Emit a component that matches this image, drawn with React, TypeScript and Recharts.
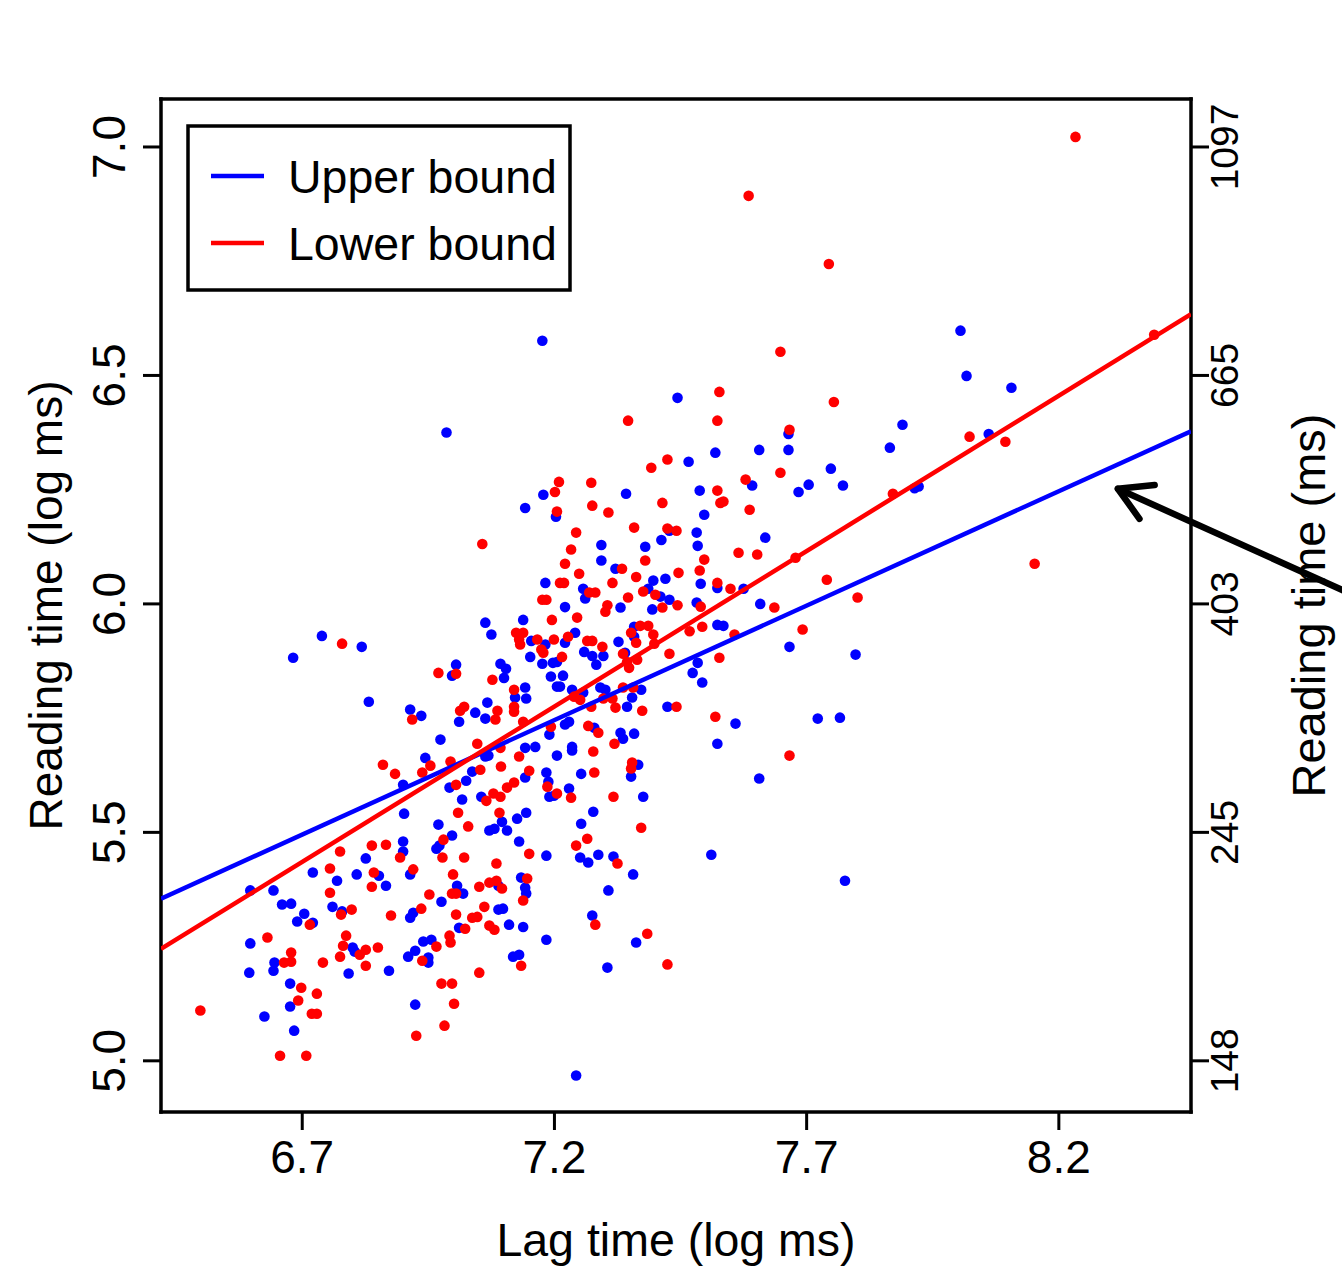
import React from "react";
import { ScatterChart, Scatter, XAxis, YAxis, ReferenceLine } from "recharts";

const FONT = '"Liberation Sans", Arial, Helvetica, sans-serif';
const BLUE = "#0000FF";
const RED = "#FF0000";

// axis setup (log scale values)
const xTicks = [6.7, 7.2, 7.7, 8.2];
const yTicks = [5.0, 5.5, 6.0, 6.5, 7.0];
const msTickLabels = ["148", "245", "403", "665", "1097"];
const xDomain: [number, number] = [6.42, 8.462];
const yDomain: [number, number] = [4.888, 7.105];

// upper bound readings: [lag time, reading time] (log ms)
const upperPts: [number, number][] = [
  [6.682,5.882],[6.739,5.930],[6.818,5.906],[6.832,5.786],[6.826,5.443],[6.721,5.412],[6.808,5.408],[6.852,5.405],[6.769,5.394],[6.866,5.383],
  [6.597,5.373],[6.643,5.373],[6.660,5.342],[6.678,5.344],[6.760,5.337],[6.779,5.327],[6.704,5.322],[6.690,5.305],[6.721,5.302],[6.597,5.257],
  [6.800,5.248],[6.804,5.239],[6.645,5.215],[6.595,5.193],[6.643,5.197],[6.792,5.191],[6.872,5.197],[6.676,5.169],[6.676,5.119],[6.625,5.097],
  [6.684,5.066],[6.986,6.375],[7.178,6.239],[7.142,6.210],[7.203,6.191],[7.182,6.046],[7.063,5.959],[7.138,5.965],[7.075,5.933],[7.154,5.919],
  [7.182,5.911],[7.152,5.884],[7.176,5.869],[7.197,5.871],[7.205,5.873],[7.005,5.867],[6.997,5.843],[7.093,5.869],[7.104,5.858],[7.100,5.838],
  [7.193,5.841],[7.205,5.819],[7.142,5.817],[7.122,5.795],[7.144,5.793],[7.067,5.784],[7.043,5.762],[7.063,5.749],[6.914,5.769],[6.936,5.755],
  [7.011,5.742],[7.190,5.714],[6.974,5.703],[7.142,5.685],[7.162,5.687],[7.063,5.666],[7.069,5.668],[7.205,5.668],[6.944,5.663],[7.037,5.633],
  [7.142,5.620],[7.184,5.631],[6.900,5.604],[7.025,5.613],[6.992,5.598],[7.188,5.611],[7.190,5.578],[7.199,5.580],[7.055,5.578],[7.017,5.572],
  [7.144,5.543],[6.902,5.541],[7.126,5.530],[7.096,5.523],[6.970,5.517],[7.071,5.504],[7.081,5.508],[7.106,5.504],[6.997,5.493],[6.972,5.471],
  [6.966,5.464],[6.900,5.480],[7.130,5.480],[7.184,5.449],[6.900,5.458],[6.914,5.408],[7.007,5.383],[7.089,5.383],[7.134,5.401],[7.142,5.379],
  [7.144,5.366],[7.019,5.366],[6.976,5.348],[7.089,5.331],[7.098,5.333],[6.920,5.324],[6.914,5.313],[7.011,5.291],[7.110,5.298],[7.138,5.293],
  [7.184,5.265],[6.940,5.261],[6.956,5.265],[6.924,5.241],[6.910,5.228],[6.950,5.226],[6.950,5.215],[7.118,5.228],[7.130,5.232],[6.924,5.123],
  [7.444,6.451],[7.519,6.331],[7.466,6.311],[7.488,6.248],[7.342,6.241],[7.497,6.195],[7.428,6.160],[7.482,6.156],[7.412,6.140],[7.293,6.129],
  [7.380,6.125],[7.484,6.127],[7.293,6.095],[7.321,6.077],[7.396,6.051],[7.420,6.055],[7.490,6.044],[7.257,6.033],[7.386,6.033],[7.410,6.016],
  [7.261,6.012],[7.428,6.009],[7.523,6.035],[7.331,5.992],[7.394,5.988],[7.482,6.003],[7.221,5.993],[7.358,5.950],[7.358,5.928],[7.523,5.954],
  [7.241,5.937],[7.221,5.915],[7.327,5.917],[7.259,5.895],[7.275,5.886],[7.297,5.886],[7.283,5.867],[7.340,5.893],[7.484,5.871],[7.474,5.849],
  [7.493,5.828],[7.217,5.843],[7.211,5.819],[7.235,5.812],[7.257,5.806],[7.291,5.817],[7.301,5.812],[7.372,5.812],[7.354,5.795],[7.344,5.775],
  [7.424,5.775],[7.221,5.736],[7.229,5.742],[7.279,5.729],[7.331,5.718],[7.336,5.705],[7.358,5.716],[7.523,5.694],[7.235,5.687],[7.235,5.679],
  [7.366,5.648],[7.352,5.622],[7.253,5.628],[7.229,5.596],[7.376,5.578],[7.277,5.545],[7.253,5.519],[7.251,5.445],[7.267,5.434],[7.287,5.451],
  [7.317,5.447],[7.356,5.408],[7.511,5.451],[7.307,5.373],[7.275,5.318],[7.362,5.259],[7.305,5.204],[7.243,4.968],
  [8.005,6.598],[8.017,6.499],[8.106,6.473],[7.890,6.392],[7.865,6.342],[8.061,6.372],[7.664,6.372],[7.606,6.337],[7.664,6.337],[7.748,6.296],
  [7.592,6.259],[7.684,6.245],[7.704,6.261],[7.772,6.259],[7.914,6.253],[7.922,6.257],[7.618,6.145],[7.575,6.033],[7.608,6.000],[7.535,5.952],
  [7.666,5.906],[7.797,5.889],[7.559,5.738],[7.722,5.749],[7.766,5.751],[7.606,5.618],[7.776,5.394],[7.176,6.576],
];

// lower bound readings
const lowerPts: [number, number][] = [
  [6.779,5.913],[6.860,5.648],[6.884,5.628],[6.838,5.471],[6.866,5.473],[6.775,5.458],[6.894,5.445],[6.755,5.421],[6.842,5.412],[6.838,5.381],
  [6.755,5.368],[6.777,5.320],[6.798,5.331],[6.715,5.298],[6.876,5.318],[6.631,5.270],[6.787,5.274],[6.781,5.252],[6.826,5.243],[6.850,5.248],
  [6.814,5.232],[6.775,5.228],[6.678,5.237],[6.664,5.215],[6.678,5.217],[6.741,5.215],[6.826,5.208],[6.698,5.160],[6.729,5.147],[6.692,5.132],
  [6.498,5.110],[6.719,5.103],[6.729,5.103],[6.656,5.011],[6.708,5.011],
  [7.209,6.267],[7.201,6.245],[7.205,6.202],[7.057,6.131],[7.211,6.046],[7.176,6.009],[7.184,6.009],[7.195,5.965],[7.124,5.937],[7.138,5.937],
  [7.130,5.922],[7.132,5.911],[7.166,5.922],[7.199,5.922],[7.174,5.900],[7.178,5.893],[6.970,5.849],[7.005,5.847],[7.077,5.834],[7.120,5.812],
  [7.120,5.775],[7.120,5.764],[7.021,5.775],[7.013,5.766],[7.087,5.766],[7.083,5.747],[6.918,5.747],[7.138,5.742],[7.193,5.731],[7.047,5.694],
  [7.093,5.685],[7.130,5.666],[6.954,5.646],[6.994,5.655],[6.938,5.631],[7.053,5.637],[7.094,5.644],[7.150,5.635],[7.005,5.604],[7.120,5.609],
  [7.106,5.598],[7.186,5.600],[7.205,5.585],[7.079,5.585],[7.093,5.578],[7.065,5.569],[7.091,5.543],[7.009,5.543],[7.029,5.513],[6.980,5.484],
  [7.150,5.453],[7.021,5.445],[6.978,5.445],[7.085,5.432],[6.920,5.419],[6.999,5.408],[7.051,5.381],[7.071,5.390],[7.085,5.394],[7.096,5.377],
  [7.146,5.399],[7.138,5.351],[6.952,5.364],[6.997,5.366],[7.005,5.366],[7.061,5.337],[6.936,5.333],[7.005,5.320],[7.037,5.313],[7.047,5.315],
  [7.023,5.289],[7.071,5.296],[7.081,5.287],[6.992,5.274],[6.994,5.259],[6.966,5.250],[6.938,5.219],[7.134,5.208],[7.051,5.193],[6.976,5.169],
  [6.997,5.169],[7.001,5.125],[6.982,5.077],[6.926,5.055],
  [7.527,6.464],[7.346,6.401],[7.523,6.401],[7.424,6.316],[7.392,6.298],[7.273,6.265],[7.523,6.248],[7.414,6.221],[7.275,6.215],[7.307,6.200],
  [7.529,6.221],[7.358,6.167],[7.424,6.165],[7.442,6.160],[7.243,6.156],[7.233,6.119],[7.380,6.095],[7.497,6.097],[7.221,6.088],[7.334,6.077],
  [7.249,6.066],[7.446,6.068],[7.488,6.073],[7.362,6.059],[7.219,6.046],[7.315,6.046],[7.523,6.046],[7.376,6.027],[7.269,6.025],[7.281,6.025],
  [7.400,6.020],[7.346,6.014],[7.305,5.997],[7.301,5.983],[7.444,5.997],[7.414,5.992],[7.490,5.994],[7.245,5.970],[7.370,5.952],[7.386,5.952],
  [7.352,5.937],[7.396,5.933],[7.468,5.940],[7.493,5.950],[7.227,5.928],[7.265,5.919],[7.275,5.919],[7.295,5.906],[7.362,5.915],[7.398,5.913],
  [7.336,5.891],[7.344,5.873],[7.364,5.878],[7.348,5.860],[7.428,5.891],[7.527,5.882],[7.215,5.884],[7.239,5.797],[7.251,5.790],[7.336,5.817],
  [7.356,5.817],[7.297,5.793],[7.315,5.793],[7.273,5.775],[7.321,5.773],[7.374,5.766],[7.442,5.775],[7.519,5.753],[7.267,5.733],[7.287,5.718],
  [7.319,5.694],[7.277,5.677],[7.354,5.653],[7.352,5.640],[7.279,5.631],[7.233,5.576],[7.317,5.578],[7.372,5.510],[7.265,5.486],[7.243,5.471],
  [7.325,5.432],[7.281,5.298],[7.384,5.278],[7.424,5.211],
  [8.233,7.022],[7.585,6.893],[7.744,6.744],[7.648,6.552],[8.389,6.589],[7.754,6.442],[8.023,6.366],[8.094,6.355],[7.666,6.381],[7.648,6.287],
  [7.579,6.272],[7.871,6.241],[7.535,6.224],[7.587,6.206],[7.565,6.112],[7.602,6.108],[7.678,6.101],[8.152,6.088],[7.740,6.053],[7.549,6.033],
  [7.636,5.992],[7.801,6.014],[7.557,5.933],[7.692,5.944],[7.666,5.668],
];

// fitted regression lines (endpoints at the plot edges)
const upperFit: [number, number][] = [[6.42, 5.355], [8.462, 6.378]];
const lowerFit: [number, number][] = [[6.42, 5.245], [8.462, 6.634]];

// annotation arrow: tail (off to the right) -> tip
const arrowTail = { x: 8.779, y: 6.022 };
const arrowTip = { x: 8.317, y: 6.252 };

const toXY = (pts: [number, number][]) => pts.map(([x, y]) => ({ x, y }));

const txt = { fontFamily: FONT, fontSize: 46, fill: "#000" };

function BottomTick({ x, y, payload }: any) {
  return (
    <text x={x} y={y + 41} textAnchor="middle" {...txt}>
      {Number(payload.value).toFixed(1)}
    </text>
  );
}

function LeftTick({ x, y, payload }: any) {
  const bx = x - 16;
  return (
    <text x={bx} y={y} transform={`rotate(-90, ${bx}, ${y})`} textAnchor="middle" {...txt}>
      {Number(payload.value).toFixed(1)}
    </text>
  );
}

function RightTick({ x, y, payload }: any) {
  const bx = x + 27;
  const i = yTicks.indexOf(payload.value);
  return (
    <text x={bx} y={y} transform={`rotate(-90, ${bx}, ${y})`} textAnchor="middle" {...txt} fontSize={39}>
      {msTickLabels[i]}
    </text>
  );
}

function ArrowShape(p: any) {
  const { x1, y1, x2, y2 } = p;
  const ang = Math.atan2(y1 - y2, x1 - x2);
  const L = 37;
  const a = Math.PI / 6;
  const ax = x2 + L * Math.cos(ang - a);
  const ay = y2 + L * Math.sin(ang - a);
  const bx = x2 + L * Math.cos(ang + a);
  const by = y2 + L * Math.sin(ang + a);
  return (
    <g>
      <line x1={x1} y1={y1} x2={x2} y2={y2} stroke="#000" strokeWidth={6.5} strokeLinecap="round" />
      <polyline points={`${ax},${ay} ${x2},${y2} ${bx},${by}`} fill="none" stroke="#000" strokeWidth={6.5}
        strokeLinecap="round" strokeLinejoin="round" />
    </g>
  );
}

const axisLine = { stroke: "#000", strokeWidth: 3.5, strokeLinecap: "square" as const };
const tickLine = { stroke: "#000", strokeWidth: 3 };

function Dot(color: string) {
  return (p: any) => <circle cx={p.cx} cy={p.cy} r={5.3} fill={color} />;
}

function Legend() {
  const rows = [
    { label: "Upper bound", color: BLUE, y: 51 },
    { label: "Lower bound", color: RED, y: 118 },
  ];
  return (
    <svg width={386} height={168} style={{ position: "absolute", left: 186, top: 124 }}>
      <rect x={2} y={2} width={382} height={164} fill="#fff" stroke="#000" strokeWidth={3.5} />
      {rows.map(r => (
        <g key={r.label}>
          <line x1={25} x2={78} y1={r.y + 1} y2={r.y + 1} stroke={r.color} strokeWidth={4.5} />
          <text x={102} y={r.y + 18} {...txt} fontSize={46.5}>{r.label}</text>
        </g>
      ))}
    </svg>
  );
}

export default function App() {
  return (
    <div style={{ position: "absolute", left: 0, top: 0, width: 1342, height: 1281, background: "#fff" }}>
      <ScatterChart width={1342} height={1281} margin={{ top: 69, right: 0, bottom: 0, left: 0 }}>
        <XAxis xAxisId="bottom" dataKey="x" type="number" domain={xDomain} ticks={xTicks} allowDataOverflow
          height={169} tickSize={18} axisLine={axisLine} tickLine={tickLine} tick={<BottomTick />}
          label={(p: any) => {
            const vb = p.viewBox || { x: 0, y: 0, width: 0, height: 0 };
            return <text x={vb.x + vb.width / 2} y={vb.y + 144} textAnchor="middle" {...txt} fontSize={46.5}>Lag time (log ms)</text>;
          }} />
        <XAxis xAxisId="top" orientation="top" dataKey="x" type="number" domain={xDomain} ticks={xTicks} allowDataOverflow
          height={30} tickSize={18} axisLine={axisLine} tickLine={tickLine} tick={false} />
        <YAxis yAxisId="left" dataKey="y" type="number" domain={yDomain} ticks={yTicks} allowDataOverflow
          width={161} tickSize={18} axisLine={axisLine} tickLine={tickLine} tick={<LeftTick />}
          label={(p: any) => {
            const vb = p.viewBox || { x: 0, y: 0, width: 0, height: 0 };
            const cx = vb.x + 62;
            const cy = vb.y + vb.height / 2;
            return <text x={cx} y={cy} transform={`rotate(-90, ${cx}, ${cy})`} textAnchor="middle" {...txt}>Reading time (log ms)</text>;
          }} />
        <YAxis yAxisId="right" orientation="right" dataKey="y" type="number" domain={yDomain} ticks={yTicks} allowDataOverflow
          width={151} tickSize={18} axisLine={axisLine} tickLine={tickLine} tick={<RightTick />}
          label={(p: any) => {
            const vb = p.viewBox || { x: 0, y: 0, width: 0, height: 0 };
            const cx = vb.x + 134;
            const cy = vb.y + vb.height / 2;
            return <text x={cx} y={cy} transform={`rotate(-90, ${cx}, ${cy})`} textAnchor="middle" {...txt} fontSize={47}>Reading time (ms)</text>;
          }} />

        <Scatter name="Upper bound" data={toXY(upperPts)} xAxisId="bottom" yAxisId="left"
          shape={Dot(BLUE)} isAnimationActive={false} />
        <Scatter name="Lower bound" data={toXY(lowerPts)} xAxisId="bottom" yAxisId="left"
          shape={Dot(RED)} isAnimationActive={false} />
        <Scatter name="Upper fit" data={toXY(upperFit)} xAxisId="bottom" yAxisId="left"
          line={{ stroke: BLUE, strokeWidth: 4.5 }} shape={() => <g />} isAnimationActive={false} />
        <Scatter name="Lower fit" data={toXY(lowerFit)} xAxisId="bottom" yAxisId="left"
          line={{ stroke: RED, strokeWidth: 4.5 }} shape={() => <g />} isAnimationActive={false} />

        <ReferenceLine xAxisId="bottom" yAxisId="left" segment={[arrowTail, arrowTip]}
          ifOverflow="visible" shape={(p: any) => <ArrowShape {...p} />} />
      </ScatterChart>
      <Legend />
    </div>
  );
}
